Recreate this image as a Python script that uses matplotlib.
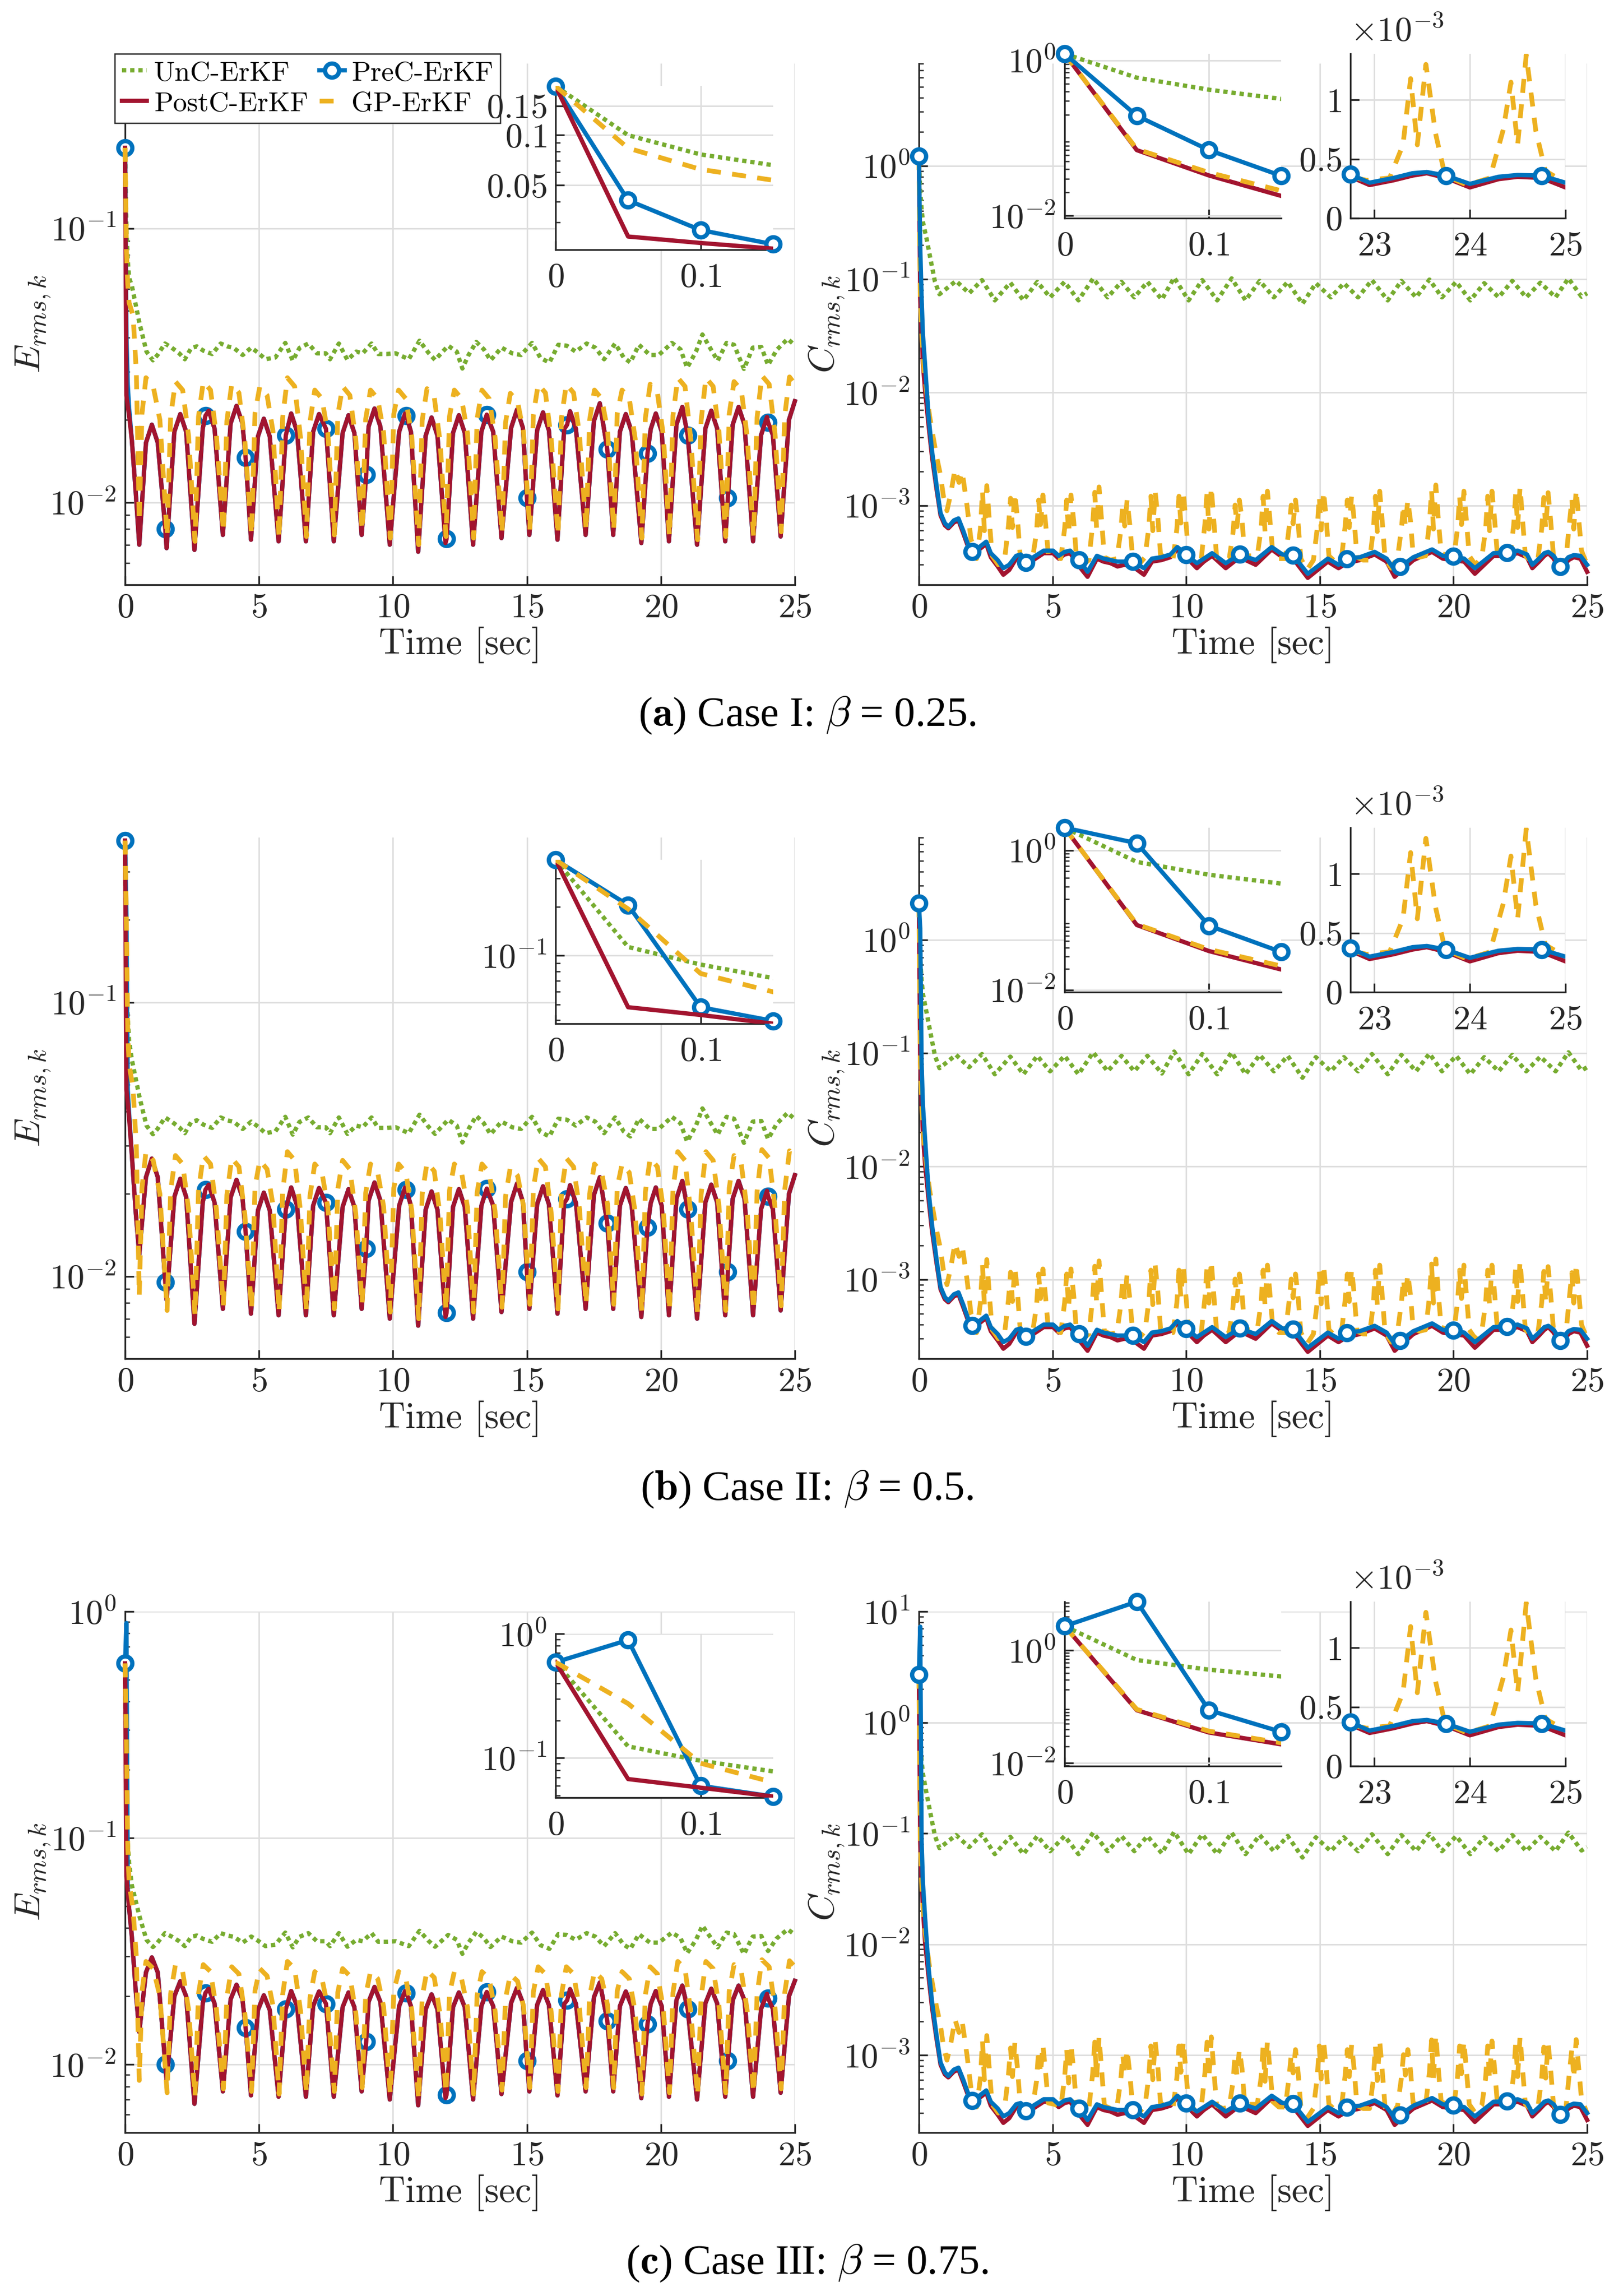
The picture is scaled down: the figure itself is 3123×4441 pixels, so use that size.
# -*- coding: utf-8 -*-
"""RMS estimation error (E) and constraint violation (C) of four ErKF variants
for three constraint-weight cases, with zoomed insets. Saves out.png."""

import matplotlib

matplotlib.use("Agg")
import matplotlib.pyplot as plt
import numpy as np
from matplotlib.lines import Line2D
from matplotlib.ticker import FixedLocator, FuncFormatter, LogLocator, NullFormatter

plt.rcParams.update({
    "font.family": ["cmr10"],
    "mathtext.fontset": "cm",
    "axes.formatter.use_mathtext": True,
    "axes.unicode_minus": False,
})

GREEN = "#77AC30"
BLUE = "#0072BD"
RED = "#A2142F"
YELLOW = "#EDB120"
AX_COLOR = "#262626"
GRID_COLOR = "#DEDEDE"
LW = 2.0
LW_GP = 2.2
MS = 6.5
DOTS = (0, (1.0, 0.9))
DASHES = (0, (2.95, 2.4))
TICK_SIZE = 16
LABEL_SIZE = 17

# ---------------------------------------------------------------- data: E_rms
E_START_T = [0.0, 0.05, 0.10, 0.15]
E_HEAD_T = [0.0, 0.05, 0.10, 0.15, 0.25, 0.40, 0.53, 0.78, 1.00, 1.22,
            1.50, 1.55, 1.84, 2.06, 2.28]
E_POST_HEAD_I = [0.197, 0.0246, 0.0225, 0.0208, 0.0170, 0.0108, 0.0070, 0.0165,
                 0.0192, 0.0165, 0.0080, 0.0068, 0.0181, 0.0210, 0.0181]
E_POST_HEAD_II = [0.39, 0.048, 0.043, 0.038, 0.028, 0.017, 0.012, 0.023,
                  0.0269, 0.023, 0.0095, 0.0082, 0.0195, 0.0227, 0.0195]
E_POST_HEAD_III = [0.59, 0.0677, 0.0577, 0.049, 0.037, 0.021, 0.0139, 0.0255,
                   0.0297, 0.0255, 0.0100, 0.00855, 0.0200, 0.0233, 0.0200]
E_PRE_START_I = [0.197, 0.0406, 0.0269, 0.0221]
E_PRE_START_II = [0.39, 0.205, 0.048, 0.0395]
E_PRE_START_III = [0.59, 0.89, 0.0598, 0.049]
E_GP_START_I = [0.197, 0.0836, 0.0623, 0.0536]
E_GP_START_II = [0.39, 0.194, 0.0775, 0.0597]
E_GP_START_III = [0.59, 0.274, 0.0907, 0.0637]
E_UNC_START_I = [0.197, 0.100, 0.0766, 0.066]
E_UNC_START_II = [0.39, 0.113, 0.088, 0.0726]
E_UNC_START_III = [0.59, 0.124, 0.095, 0.078]

E_POST_TAIL_T = [
    2.59, 2.90, 3.00, 3.12, 3.34, 3.65, 3.94, 4.16, 4.38, 4.50, 4.70, 4.96, 5.18, 5.40,
    5.73, 6.00, 6.20, 6.42, 6.75, 7.02, 7.24, 7.50, 7.79, 8.12, 8.34, 8.56, 8.83, 9.00,
    9.09, 9.31, 9.53, 9.88, 10.23, 10.45, 10.50, 10.67, 10.94, 11.22, 11.44, 11.66,
    11.96, 12.00, 12.24, 12.46, 12.68, 12.99, 13.30, 13.50, 13.74, 14.05, 14.41, 14.63,
    14.85, 15.00, 15.09, 15.38, 15.60, 15.82, 16.14, 16.39, 16.50, 16.61, 16.83, 17.19,
    17.50, 17.72, 18.00, 18.22, 18.47, 18.69, 18.91, 19.27, 19.50, 19.62, 19.81, 20.03,
    20.30, 20.58, 20.80, 21.00, 21.35, 21.66, 21.88, 22.10, 22.40, 22.50, 22.68, 22.90,
    23.12, 23.44, 23.74, 23.96, 24.00, 24.18, 24.47, 24.78, 25.00]
E_POST_TAIL = [
    0.0067, 0.0186, 0.0207, 0.0216, 0.0186, 0.0076, 0.0194, 0.0225, 0.0194, 0.01455,
    0.0073, 0.0174, 0.0202, 0.0174, 0.0072, 0.01755, 0.0211, 0.0181, 0.0072, 0.0181,
    0.0210, 0.01855, 0.0072, 0.0179, 0.0208, 0.0179, 0.0076, 0.0126, 0.0189, 0.0220,
    0.0189, 0.0070, 0.0181, 0.0211, 0.0207, 0.0181, 0.0066, 0.0175, 0.0204, 0.0175,
    0.0071, 0.00735, 0.0179, 0.0208, 0.0179, 0.0070, 0.0181, 0.0209, 0.0181, 0.0074,
    0.0187, 0.0218, 0.0187, 0.01037, 0.0076, 0.0183, 0.0213, 0.0183, 0.0073, 0.0185,
    0.0192, 0.0215, 0.0185, 0.0076, 0.0198, 0.0230, 0.0156, 0.0076, 0.0181, 0.0210,
    0.0181, 0.0071, 0.0151, 0.0185, 0.0211, 0.0181, 0.0072, 0.0192, 0.0223, 0.01755,
    0.0070, 0.0186, 0.0216, 0.0186, 0.0072, 0.0104, 0.0192, 0.0223, 0.0192, 0.0072,
    0.0176, 0.0205, 0.0196, 0.0176, 0.0075, 0.0200, 0.0234]

E_GP_TAIL_T = [
    0.30, 0.42, 0.53, 0.63, 0.78, 1.05, 1.30, 1.57, 1.70, 1.88, 2.15, 2.37,
    2.61, 2.74, 2.92, 3.19, 3.41, 3.67, 3.80, 3.98, 4.25, 4.47,
    4.72, 4.85, 5.03, 5.30, 5.52, 5.75, 5.88, 6.06, 6.33, 6.55,
    6.77, 6.90, 7.08, 7.35, 7.57, 7.81, 7.94, 8.12, 8.39, 8.61,
    8.85, 8.98, 9.16, 9.43, 9.65, 9.90, 10.03, 10.21, 10.48, 10.70,
    10.96, 11.09, 11.27, 11.54, 11.76, 11.98, 12.11, 12.29, 12.56, 12.78,
    13.01, 13.14, 13.32, 13.59, 13.81, 14.07, 14.20, 14.38, 14.65, 14.87,
    15.11, 15.24, 15.42, 15.69, 15.91, 16.16, 16.29, 16.47, 16.74, 16.96,
    17.21, 17.34, 17.52, 17.79, 18.01, 18.24, 18.37, 18.55, 18.82, 19.04,
    19.29, 19.42, 19.60, 19.87, 20.09, 20.32, 20.45, 20.63, 20.90, 21.12,
    21.37, 21.50, 21.68, 21.95, 22.17, 22.42, 22.55, 22.73, 23.00, 23.22,
    23.46, 23.59, 23.77, 24.04, 24.26, 24.49, 24.62, 24.80, 25.00]
E_GP_TAIL = [
    0.048, 0.030, 0.0085, 0.021, 0.0285, 0.0265, 0.020, 0.0075, 0.0205, 0.0276, 0.0257, 0.0175,
    0.0072, 0.0205, 0.0276, 0.0257, 0.0175, 0.0078, 0.0198, 0.0270, 0.0251, 0.0168,
    0.0076, 0.0212, 0.0265, 0.0246, 0.0182, 0.0074, 0.0203, 0.0285, 0.0265, 0.0172,
    0.0075, 0.0196, 0.0257, 0.0239, 0.0178, 0.0076, 0.0208, 0.0265, 0.0246, 0.0170,
    0.0079, 0.0201, 0.0257, 0.0239, 0.0180, 0.0074, 0.0210, 0.0257, 0.0239, 0.0174,
    0.0070, 0.0199, 0.0260, 0.0242, 0.0166, 0.0075, 0.0206, 0.0257, 0.0239, 0.0179,
    0.0074, 0.0202, 0.0257, 0.0239, 0.0173, 0.0077, 0.0195, 0.0250, 0.0233, 0.0181,
    0.0079, 0.0209, 0.0270, 0.0251, 0.0169, 0.0076, 0.0204, 0.0270, 0.0251, 0.0177,
    0.0079, 0.0200, 0.0257, 0.0239, 0.0183, 0.0079, 0.0211, 0.0257, 0.0239, 0.0171,
    0.0074, 0.0203, 0.0270, 0.0251, 0.0176, 0.0075, 0.0207, 0.0285, 0.0265, 0.0168,
    0.0073, 0.0198, 0.0285, 0.0265, 0.0180, 0.0075, 0.0210, 0.0276, 0.0257, 0.0174,
    0.0075, 0.0204, 0.0290, 0.0270, 0.0178, 0.0078, 0.0206, 0.0287, 0.0270]

E_UNC_TAIL_T = [
    0.25, 0.54, 0.80, 1.04, 1.21, 1.49, 1.74, 2.02, 2.23, 2.47, 2.68, 2.92, 3.25, 3.57,
    3.82, 4.06, 4.39, 4.71, 4.96, 5.24, 5.61, 5.98, 6.26, 6.51, 6.84, 7.16, 7.49, 7.65,
    7.98, 8.30, 8.63, 8.87, 9.20, 9.45, 9.77, 10.10, 10.59, 10.99, 11.32, 11.57, 12.06,
    12.38, 12.59, 12.82, 13.11, 13.39, 13.64, 14.05, 14.45, 14.78, 15.19, 15.51, 15.84,
    16.17, 16.49, 16.82, 17.23, 17.55, 17.88, 18.29, 18.61, 18.86, 19.18, 19.59, 19.92,
    20.41, 20.73, 20.98, 21.31, 21.55, 21.88, 22.12, 22.45, 22.73, 23.10, 23.43, 23.75,
    24.00, 24.32, 24.73, 24.98]
E_UNC_TAIL = [
    0.062, 0.045, 0.0355, 0.0330, 0.0345, 0.0380, 0.0367, 0.0350, 0.0333, 0.0366, 0.0371,
    0.0358, 0.0348, 0.0380, 0.0371, 0.0366, 0.0345, 0.0367, 0.0352, 0.0333, 0.0338, 0.0382,
    0.0329, 0.0366, 0.0380, 0.0350, 0.0350, 0.0333, 0.0380, 0.0331, 0.0355, 0.0350, 0.0380,
    0.0348, 0.0348, 0.0350, 0.0333, 0.0389, 0.0352, 0.0331, 0.0373, 0.0355, 0.0308, 0.0345,
    0.0385, 0.0362, 0.0330, 0.0367, 0.0350, 0.0345, 0.0382, 0.0336, 0.0324, 0.0376, 0.0373,
    0.0355, 0.0380, 0.0367, 0.0333, 0.0380, 0.0338, 0.0324, 0.0376, 0.0345, 0.0345, 0.0382,
    0.0362, 0.0310, 0.0355, 0.0410, 0.0360, 0.0329, 0.0382, 0.0376, 0.0307, 0.0367, 0.0369,
    0.0317, 0.0360, 0.0395, 0.0376]

E_MARK_T = [0.0, 1.5, 3.0, 4.5, 6.0, 7.5, 9.0, 10.5, 12.0, 13.5, 15.0, 16.5, 18.0,
            19.5, 21.0, 22.5, 24.0]

# ---------------------------------------------------------------- data: C_rms
C_START_T = [0.0, 0.05, 0.10, 0.15]
C_PRE_START_I = [1.22, 0.194, 0.070, 0.0327]
C_PRE_START_II = [2.10, 1.26, 0.083, 0.035]
C_PRE_START_III = [2.69, 7.30, 0.087, 0.036]
C_POST_START_I = [1.22, 0.070, 0.033, 0.018]
C_POST_START_II = [2.10, 0.085, 0.036, 0.0196]
C_POST_START_III = [2.69, 0.087, 0.035, 0.0216]
C_GP_START_I = [1.22, 0.072, 0.036, 0.021]
C_GP_START_II = [2.10, 0.087, 0.038, 0.022]
C_GP_START_III = [2.69, 0.090, 0.037, 0.023]
C_UNC_START_I = [1.22, 0.60, 0.42, 0.32]
C_UNC_START_II = [2.10, 0.68, 0.445, 0.333]
C_UNC_START_III = [2.69, 0.675, 0.455, 0.345]

C_PC_TAIL_T = [
    0.23, 0.36, 0.49, 0.66, 0.81, 0.97, 1.10, 1.31, 1.48, 1.66, 1.83, 2.00, 2.26, 2.52,
    2.69, 2.95, 3.16, 3.38, 3.64, 3.81, 4.00, 4.28, 4.67, 5.02, 5.23, 5.45, 5.66, 6.00,
    6.31, 6.66, 6.91, 7.17, 7.43, 7.69, 8.00, 8.42, 8.72, 9.07, 9.41, 9.67, 10.00, 10.40,
    10.66, 10.97, 11.48, 12.00, 12.60, 13.20, 13.60, 14.00, 14.55, 15.30, 15.70, 16.00,
    16.50, 17.05, 17.50, 17.80, 18.00, 18.50, 19.20, 19.60, 20.00, 20.40, 20.80, 21.50,
    22.00, 22.40, 22.75, 22.95, 23.20, 23.40, 23.55, 23.75, 24.00, 24.30, 24.50, 24.75,
    25.00]
# values in units of 1e-4
C_PRE_TAIL_E4 = [
    177, 62, 30.6, 15.1, 8.6, 7.0, 6.5, 7.4, 7.7, 6.0, 4.6, 3.9, 4.3, 4.8, 3.8, 3.3, 2.8,
    3.0, 3.6, 3.7, 3.15, 3.5, 4.0, 4.0, 3.6, 3.9, 4.0, 3.3, 2.6, 3.6, 3.4, 3.3, 3.2, 3.2,
    3.2, 2.8, 3.4, 3.5, 3.7, 4.3, 3.68, 3.1, 3.4, 3.8, 3.1, 3.7, 3.3, 4.3, 3.7, 3.65, 2.5,
    3.4, 3.0, 3.4, 3.5, 3.9, 3.4, 2.7, 2.88, 3.5, 4.1, 3.6, 3.55, 3.4, 2.8, 3.8, 3.85, 4.0,
    3.7, 3.0, 3.4, 3.8, 3.9, 3.6, 2.9, 3.5, 3.65, 3.6, 3.0]
C_POST_TAIL_E4 = [
    105, 52, 27, 14, 8.2, 6.7, 6.3, 7.1, 7.4, 5.7, 4.4, 3.7, 4.1, 4.6, 3.5, 2.9, 2.45,
    2.7, 3.4, 3.5, 2.9, 3.3, 3.8, 3.8, 3.4, 3.7, 3.8, 2.9, 2.35, 3.4, 3.2, 3.1, 2.9, 3.0,
    2.9, 2.45, 3.2, 3.3, 3.5, 4.1, 3.5, 2.8, 3.2, 3.6, 2.8, 3.5, 3.0, 4.1, 3.5, 3.4, 2.3,
    3.2, 2.8, 3.1, 3.3, 3.7, 3.2, 2.35, 2.6, 3.3, 3.9, 3.4, 3.3, 3.2, 2.5, 3.6, 3.6, 3.8,
    3.5, 2.8, 3.2, 3.6, 3.8, 3.4, 2.6, 3.3, 3.5, 3.4, 2.6]

C_GP_TAIL_T = [
    0.20, 0.30, 0.40, 0.50, 0.65, 0.80, 0.92, 1.05, 1.20, 1.35, 1.50, 1.62, 1.80, 1.95, 2.10,
    2.16, 2.30, 2.38, 2.45, 2.54, 2.64, 2.74, 2.97,
    3.21, 3.35, 3.43, 3.50, 3.59, 3.69, 3.79, 4.02,
    4.26, 4.40, 4.48, 4.55, 4.64, 4.74, 4.84, 5.07,
    5.31, 5.45, 5.53, 5.60, 5.69, 5.79, 5.89, 6.12,
    6.36, 6.50, 6.58, 6.65, 6.74, 6.84, 6.94, 7.17,
    7.41, 7.55, 7.63, 7.70, 7.79, 7.89, 7.99, 8.22,
    8.46, 8.60, 8.68, 8.75, 8.84, 8.94, 9.04, 9.27,
    9.51, 9.65, 9.73, 9.80, 9.89, 9.99, 10.09, 10.32,
    10.56, 10.70, 10.78, 10.85, 10.94, 11.04, 11.14, 11.37,
    11.61, 11.75, 11.83, 11.90, 11.99, 12.09, 12.19, 12.42,
    12.66, 12.80, 12.88, 12.95, 13.04, 13.14, 13.24, 13.47,
    13.71, 13.85, 13.93, 14.00, 14.09, 14.19, 14.29, 14.52,
    14.76, 14.90, 14.98, 15.05, 15.14, 15.24, 15.34, 15.57,
    15.81, 15.95, 16.03, 16.10, 16.19, 16.29, 16.39, 16.62,
    16.86, 17.00, 17.08, 17.15, 17.24, 17.34, 17.44, 17.67,
    17.91, 18.05, 18.13, 18.20, 18.29, 18.39, 18.49, 18.72,
    18.96, 19.10, 19.18, 19.25, 19.34, 19.44, 19.54, 19.77,
    20.01, 20.15, 20.23, 20.30, 20.39, 20.49, 20.59, 20.82,
    21.06, 21.20, 21.28, 21.35, 21.44, 21.54, 21.64, 21.87,
    22.11, 22.25, 22.33, 22.40, 22.49, 22.59, 22.69, 22.92,
    23.16, 23.30, 23.38, 23.45, 23.54, 23.64, 23.74, 23.97,
    24.21, 24.35, 24.43, 24.50, 24.59, 24.69, 24.79, 25.00]
C_GP_TAIL_E4 = [
    150, 95, 62, 45, 28, 19, 12, 9, 13, 21, 16, 20, 10, 5, 4.2,
    3.4, 6.2, 13.5, 6.0, 15.0, 7.2, 3.6, 3.0,
    3.4, 6.6, 11.6, 6.4, 12.9, 7.6, 3.6, 3.3,
    3.5, 5.8, 11.2, 6.8, 12.4, 7.0, 3.7, 3.6,
    3.4, 6.2, 11.2, 5.6, 12.4, 7.4, 3.6, 3.0,
    3.3, 6.8, 13.1, 6.2, 14.6, 7.2, 3.5, 3.3,
    3.4, 5.9, 10.1, 6.6, 11.2, 6.8, 3.6, 3.0,
    3.5, 6.4, 12.1, 6.0, 13.4, 7.8, 3.7, 3.4,
    3.4, 6.2, 12.1, 7.0, 13.4, 7.2, 3.6, 3.2,
    3.3, 6.9, 13.1, 6.2, 14.6, 7.0, 3.5, 3.3,
    3.4, 5.7, 10.1, 6.5, 11.2, 7.5, 3.6, 3.6,
    3.6, 6.2, 12.1, 5.8, 13.4, 7.2, 3.8, 3.4,
    3.4, 6.4, 10.1, 6.9, 11.2, 6.9, 3.4, 2.7,
    3.3, 6.2, 12.1, 6.1, 13.4, 7.6, 3.6, 3.2,
    3.4, 6.7, 11.2, 6.4, 12.4, 7.2, 3.5, 3.3,
    3.3, 6.0, 12.1, 5.9, 13.4, 7.0, 3.4, 2.8,
    3.5, 6.2, 10.1, 6.6, 11.2, 7.4, 3.7, 3.5,
    3.6, 7.0, 13.7, 6.2, 15.2, 7.2, 3.8, 3.6,
    3.4, 6.3, 12.1, 6.8, 13.4, 7.1, 3.6, 3.0,
    3.5, 6.1, 12.1, 6.0, 13.4, 7.5, 3.7, 3.6,
    3.6, 6.6, 13.1, 6.4, 14.6, 7.2, 3.6, 3.2,
    3.4, 6.2, 11.8, 6.2, 13.0, 7.2, 3.6, 2.8,
    3.4, 7.5, 11.5, 6.2, 13.8, 7.4, 4.0, 3.0]

C_UNC_TAIL_T = [
    0.30, 0.43, 0.60, 0.77, 1.39, 1.88, 2.36, 2.84, 3.42, 3.91, 4.43, 4.91, 5.45, 5.97,
    6.52, 7.06, 7.58, 8.06, 8.55, 9.09, 9.55, 10.09, 10.60, 11.16, 11.70, 12.22, 12.75,
    13.28, 13.80, 14.35, 14.85, 15.41, 15.90, 16.43, 16.95, 17.54, 18.05, 18.60, 19.10,
    19.57, 20.10, 20.63, 21.15, 21.69, 22.20, 22.72, 23.25, 23.82, 24.30, 24.79, 25.00]
C_UNC_TAIL = [
    0.22, 0.152, 0.095, 0.0735, 0.0964, 0.075, 0.098, 0.0649, 0.093, 0.0649, 0.0945,
    0.069, 0.0945, 0.0649, 0.1015, 0.069, 0.0945, 0.069, 0.0945, 0.066, 0.103, 0.0649,
    0.098, 0.0649, 0.1015, 0.0649, 0.0964, 0.069, 0.0945, 0.0605, 0.092, 0.069, 0.092,
    0.069, 0.098, 0.0649, 0.0964, 0.069, 0.099, 0.069, 0.0945, 0.0649, 0.092, 0.069,
    0.0964, 0.069, 0.093, 0.069, 0.1015, 0.070, 0.075]

C_MARK_T = [0.0, 2.0, 4.0, 6.0, 8.0, 10.0, 12.0, 14.0, 16.0, 18.0, 20.0, 22.0, 24.0]
C_ZOOM_MARK_T = [22.75, 23.75, 24.75]

CASE_TAGS = ["a", "b", "c"]
CASE_NAMES = ["I", "II", "III"]
BETAS = ["0.25", "0.5", "0.75"]
X_TICKS = [0, 5, 10, 15, 20, 25]

# ---------------------------------------------------------------- layout (px)
W, H = 3123, 4441
ROW_SHIFT = 1497


def box(x0, y0, x1, y1, dy):
    return [x0 / W, 1 - (y1 + dy) / H, (x1 - x0) / W, (y1 - y0) / H]


def log_fmt(v, _):
    return r"$10^{%d}$" % int(round(np.log10(v)))


def num_fmt(v, _):
    return r"$%g$" % v


def style(ax):
    ax.set_facecolor("white")
    for side in ("top", "right"):
        ax.spines[side].set_visible(False)
    for side in ("left", "bottom"):
        ax.spines[side].set_color(AX_COLOR)
        ax.spines[side].set_linewidth(0.8)
    ax.tick_params(which="both", direction="in", colors=AX_COLOR, labelsize=TICK_SIZE)
    ax.tick_params(which="major", length=4, width=0.8, pad=4)
    ax.tick_params(which="minor", length=2.2, width=0.6)
    ax.grid(True, which="major", color=GRID_COLOR, lw=0.7)
    ax.set_axisbelow(True)


def log_y(ax, lo, hi, ticks, fmt=log_fmt):
    ax.set_yscale("log")
    ax.set_ylim(lo, hi)
    ax.yaxis.set_major_locator(FixedLocator(ticks))
    ax.yaxis.set_major_formatter(FuncFormatter(fmt))
    ax.yaxis.set_minor_locator(LogLocator(base=10, subs=np.arange(2, 10), numticks=40))
    ax.yaxis.set_minor_formatter(NullFormatter())


def lin_x(ax, lo, hi, ticks, pad=4):
    ax.set_xlim(lo, hi)
    ax.xaxis.set_major_locator(FixedLocator(ticks))
    ax.xaxis.set_major_formatter(FuncFormatter(num_fmt))
    ax.tick_params(axis="x", which="major", pad=pad)


def mark_idx(t, marks):
    t = np.round(np.asarray(t), 3)
    return [int(i) for i in np.where(np.isin(t, np.round(marks, 3)))[0]]


def draw_series(ax, series, order, clip, mark=None, zoom_mark=None):
    """series: dict name -> (t, v)."""
    z = 2
    for name in order:
        t, v = series[name]
        kw = dict(zorder=z, clip_on=clip)
        if name == "unc":
            ax.plot(t, v, color=GREEN, lw=LW, ls=DOTS, **kw)
        elif name == "post":
            ax.plot(t, v, color=RED, lw=LW, **kw)
        elif name == "gp":
            ax.plot(t, v, color=YELLOW, lw=LW_GP, ls=DASHES, **kw)
        elif name == "pre":
            if mark is not None:
                ax.plot(t, v, color=BLUE, lw=LW, marker="o", markevery=mark, ms=MS,
                        mfc="white", mec=BLUE, mew=LW, **kw)
            else:
                ax.plot(t, v, color=BLUE, lw=LW, **kw)
            if zoom_mark is not None:
                ta, va = np.asarray(t), np.asarray(v)
                ax.plot(ta[zoom_mark], va[zoom_mark], ls="none", marker="o", ms=MS,
                        mfc="white", mec=BLUE, mew=LW, zorder=z + 0.5, clip_on=False)
        z += 1


fig = plt.figure(figsize=(W / 300, H / 300), dpi=300)
fig.patch.set_facecolor("white")

cases = [
    (E_POST_HEAD_I, E_PRE_START_I, E_GP_START_I, E_UNC_START_I,
     C_PRE_START_I, C_POST_START_I, C_GP_START_I, C_UNC_START_I),
    (E_POST_HEAD_II, E_PRE_START_II, E_GP_START_II, E_UNC_START_II,
     C_PRE_START_II, C_POST_START_II, C_GP_START_II, C_UNC_START_II),
    (E_POST_HEAD_III, E_PRE_START_III, E_GP_START_III, E_UNC_START_III,
     C_PRE_START_III, C_POST_START_III, C_GP_START_III, C_UNC_START_III),
]
e_main_top = [0.4, 0.4, 1.0]
e_main_ticks = [[1e-2, 1e-1], [1e-2, 1e-1], [1e-2, 1e-1, 1e0]]
e_zoom_lim = [(0.0205, 0.198), (0.038, 0.39), (0.048, 1.0)]
e_zoom_ticks = [[0.05, 0.1, 0.15], [0.1], [0.1, 1.0]]
c_main_top = [8.0, 8.0, 10.0]
c_main_ticks = [[1e-3, 1e-2, 1e-1, 1e0], [1e-3, 1e-2, 1e-1, 1e0],
                [1e-3, 1e-2, 1e-1, 1e0, 1e1]]
c_zoom_lim = [(0.0093, 1.22), (0.0093, 2.10), (0.0089, 7.30)]

legend_ax = None
for k, (e_head, e_pre0, e_gp0, e_unc0, c_pre0, c_post0, c_gp0, c_unc0) in enumerate(cases):
    dy = k * ROW_SHIFT

    e_t_pc = E_HEAD_T + E_POST_TAIL_T
    e_series = {
        "unc": (E_START_T + E_UNC_TAIL_T, e_unc0 + E_UNC_TAIL),
        "pre": (e_t_pc, e_pre0 + e_head[4:] + E_POST_TAIL),
        "post": (e_t_pc, e_head + E_POST_TAIL),
        "gp": (E_START_T + E_GP_TAIL_T, e_gp0 + E_GP_TAIL),
    }
    c_t_pc = C_START_T + C_PC_TAIL_T
    c_series = {
        "unc": (C_START_T + C_UNC_TAIL_T, c_unc0 + C_UNC_TAIL),
        "pre": (c_t_pc, c_pre0 + [v * 1e-4 for v in C_PRE_TAIL_E4]),
        "post": (c_t_pc, c_post0 + [v * 1e-4 for v in C_POST_TAIL_E4]),
        "gp": (C_START_T + C_GP_TAIL_T, c_gp0 + [v * 1e-4 for v in C_GP_TAIL_E4]),
    }
    e_order = ["unc", "pre", "post", "gp"]
    c_order = ["unc", "post", "gp", "pre"]

    # ---- left main: E_rms
    axl = fig.add_axes(box(242, 123, 1538, 1131, dy))
    style(axl)
    draw_series(axl, e_series, e_order, clip=False, mark=mark_idx(e_t_pc, E_MARK_T))
    lin_x(axl, 0, 25, X_TICKS)
    log_y(axl, 0.005, e_main_top[k], e_main_ticks[k])
    axl.text(-0.137, 0.5, r"$E_{rms,k}$", transform=axl.transAxes, rotation=90,
             ha="center", va="center", fontsize=LABEL_SIZE, color=AX_COLOR)
    axl.text(0.5, -0.116, "Time [sec]", transform=axl.transAxes, ha="center",
             va="center", fontsize=LABEL_SIZE, color=AX_COLOR)
    if k == 0:
        legend_ax = axl

    # ---- right main: C_rms
    axr = fig.add_axes(box(1778, 123, 3071, 1131, dy))
    style(axr)
    draw_series(axr, c_series, c_order, clip=False, mark=mark_idx(c_t_pc, C_MARK_T))
    lin_x(axr, 0, 25, X_TICKS)
    log_y(axr, 2e-4, c_main_top[k], c_main_ticks[k])
    axr.text(-0.138, 0.5, r"$C_{rms,k}$", transform=axr.transAxes, rotation=90,
             ha="center", va="center", fontsize=LABEL_SIZE, color=AX_COLOR)
    axr.text(0.5, -0.116, "Time [sec]", transform=axr.transAxes, ha="center",
             va="center", fontsize=LABEL_SIZE, color=AX_COLOR)

    # ---- inset: E_rms first samples
    axi = fig.add_axes(box(1075, 166, 1496, 483, dy))
    style(axi)
    draw_series(axi, e_series, e_order, clip=True, zoom_mark=[0, 1, 2, 3])
    lin_x(axi, 0, 0.15, [0, 0.1], pad=6)
    log_y(axi, *e_zoom_lim[k], e_zoom_ticks[k], fmt=num_fmt if k == 0 else log_fmt)

    # ---- inset: C_rms first samples
    axj = fig.add_axes(box(2060, 104, 2479, 422, dy))
    style(axj)
    draw_series(axj, c_series, c_order, clip=True, zoom_mark=[0, 1, 2, 3])
    lin_x(axj, 0, 0.15, [0, 0.1], pad=6)
    log_y(axj, *c_zoom_lim[k], [1e-2, 1e0])

    # ---- inset: C_rms last seconds (linear)
    axz = fig.add_axes(box(2613, 104, 3029, 422, dy))
    style(axz)
    draw_series(axz, c_series, c_order, clip=True,
                zoom_mark=mark_idx(c_t_pc, C_ZOOM_MARK_T))
    lin_x(axz, 22.75, 25, [23, 24, 25], pad=6)
    axz.set_ylim(0, 1.39e-3)
    axz.yaxis.set_major_locator(FixedLocator([0, 0.5e-3, 1e-3]))
    axz.yaxis.set_major_formatter(FuncFormatter(lambda v, _: r"$%g$" % round(v * 1e3, 3)))
    axz.text(0.0, 1.035, r"$\times 10^{-3}$", transform=axz.transAxes, ha="left",
             va="bottom", fontsize=TICK_SIZE, color=AX_COLOR)

    # ---- caption
    fig.text(0.5, 1 - (1384 + dy) / H,
             r"($\mathbf{%s}$) Case %s: $\beta$ = %s." % (CASE_TAGS[k], CASE_NAMES[k], BETAS[k]),
             ha="center", va="center", fontsize=19.5, family="Liberation Serif",
             color="black")

handles = [
    Line2D([], [], color=GREEN, lw=LW, ls=DOTS),
    Line2D([], [], color=RED, lw=LW),
    Line2D([], [], color=BLUE, lw=LW, marker="o", ms=MS, mfc="white", mec=BLUE, mew=LW),
    Line2D([], [], color=YELLOW, lw=LW_GP, ls=DASHES),
]
labels = ["UnC-ErKF", "PostC-ErKF", "PreC-ErKF", "GP-ErKF"]
leg = legend_ax.legend(handles, labels, ncol=2, loc="upper left",
                       bbox_to_anchor=(222 / W, 1 - 104 / H), bbox_transform=fig.transFigure,
                       fontsize=13, frameon=True, fancybox=False, framealpha=1,
                       edgecolor=AX_COLOR, borderpad=0.25, handlelength=0.9,
                       handletextpad=0.25, columnspacing=0.4, labelspacing=0.2,
                       borderaxespad=0)
leg.get_frame().set_linewidth(0.6)
leg.set_zorder(10)

fig.savefig("out.png", dpi=300, facecolor="white")
